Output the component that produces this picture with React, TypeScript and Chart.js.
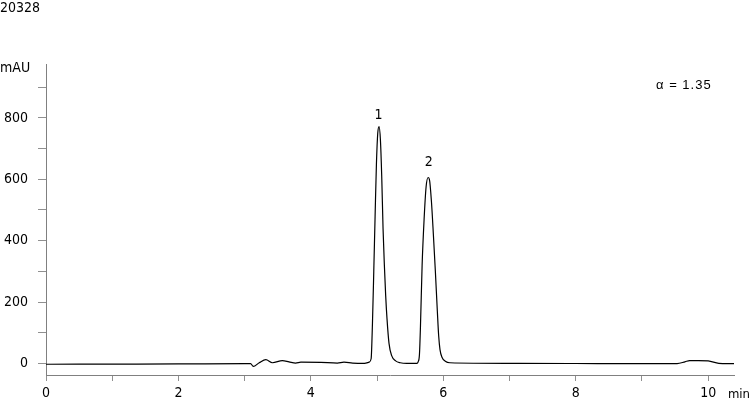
import { Chart, registerables } from "chart.js";
import { useEffect, useRef } from "react";

Chart.register(...registerables);

// retention time (min) and detector signal (mAU)
const times = [
  0, 1, 2, 3, 3.09, 3.13, 3.22, 3.32, 3.42, 3.57, 3.67, 3.77, 3.85, 4.15, 4.4,
  4.5, 4.63, 4.81, 4.88, 4.91, 4.93, 4.95, 4.97, 4.99, 5.01, 5.03, 5.05, 5.07,
  5.09, 5.11, 5.13, 5.15, 5.18, 5.22, 5.28, 5.35, 5.45, 5.6, 5.62, 5.64, 5.655,
  5.68, 5.71, 5.74, 5.77, 5.79, 5.82, 5.85, 5.88, 5.91, 5.93, 5.95, 5.98, 6.03,
  6.1, 7, 8, 9, 9.53, 9.65, 9.72, 9.85, 10.0, 10.16, 10.3, 10.39,
];
const signal = [
  -3, -2.5, -2, -1, -1, -10, 2, 12, 2, 9, 5, 1, 4, 3, 1, 4, 1, 0, 4, 15, 130,
  300, 480, 650, 750, 772, 730, 610, 440, 320, 220, 145, 65, 25, 8, 2, 0, 0, 5,
  30, 120, 320, 470, 575, 606, 600, 530, 420, 300, 170, 90, 45, 20, 7, 2, 0,
  -0.5, -1, -1, 5, 9, 9, 8, 0, -1, -1,
];

const peakNames = ["1", "2"];
const peakTimes = [5.02, 5.78];
const peakLabelY = [793, 640];

const xMin = 0;
const xMax = 10.39;
const yMin = -38;
const yMax = 976;

const tickFont = '"DejaVu Sans Condensed", "DejaVu Sans", sans-serif';

const textPlugin = {
  id: "chromText",
  afterDraw(chart: Chart) {
    const ctx = chart.ctx;
    const xs = chart.scales.x;
    const ys = chart.scales.y;
    ctx.save();
    ctx.fillStyle = "#000";
    ctx.font = `14px ${tickFont}`;
    ctx.textAlign = "left";
    ctx.textBaseline = "alphabetic";
    ctx.fillText("20328", 0, 12);
    ctx.fillText("mAU", 0, 72);
    ctx.textAlign = "center";
    ctx.textBaseline = "bottom";
    peakNames.forEach((name, i) => {
      ctx.fillText(
        name,
        xs.getPixelForValue(peakTimes[i]),
        ys.getPixelForValue(peakLabelY[i]) + 2,
      );
    });
    ctx.font = `13px ${tickFont}`;
    ctx.textAlign = "right";
    ctx.textBaseline = "alphabetic";
    ctx.fillText("min", 750, 398);
    ctx.font = '13px "Liberation Sans", Arial, sans-serif';
    (ctx as any).letterSpacing = "1px";
    ctx.textAlign = "left";
    ctx.fillText("\u03b1 = 1.35", 656, 89);
    ctx.restore();
  },
};

export default function App() {
  const canvasRef = useRef<HTMLCanvasElement | null>(null);

  useEffect(() => {
    if (!canvasRef.current) return;
    const ctx = canvasRef.current.getContext("2d");
    if (!ctx) return;

    const points = times.map((t, i) => ({ x: t, y: signal[i] }));

    const chart = new Chart(ctx, {
      type: "line",
      data: {
        datasets: [
          {
            data: points,
            borderColor: "#000",
            borderWidth: 1.2,
            pointRadius: 0,
            fill: false,
            cubicInterpolationMode: "monotone",
          },
        ],
      },
      options: {
        animation: false,
        responsive: false,
        devicePixelRatio: 1,
        layout: { padding: { left: 0, top: 64, right: 16, bottom: 0 } },
        plugins: {
          legend: { display: false },
          tooltip: { enabled: false },
        },
        scales: {
          x: {
            type: "linear",
            min: xMin,
            max: xMax,
            afterFit: (s: any) => {
              s.height = 25;
            },
            border: { display: true, color: "#808080", width: 1 },
            grid: {
              drawOnChartArea: false,
              drawTicks: true,
              tickLength: 6,
              color: "#909090",
            },
            ticks: {
              stepSize: 1,
              includeBounds: false,
              autoSkip: false,
              maxRotation: 0,
              padding: 4,
              color: "#000",
              font: { family: tickFont, size: 14 },
              callback: (v: any) => (Number(v) % 2 === 0 ? String(v) : ""),
            },
          },
          y: {
            type: "linear",
            min: yMin,
            max: yMax,
            afterFit: (s: any) => {
              s.width = 46;
            },
            border: { display: true, color: "#808080", width: 1 },
            grid: {
              drawOnChartArea: false,
              drawTicks: true,
              tickLength: 8,
              color: "#909090",
            },
            ticks: {
              stepSize: 100,
              includeBounds: false,
              autoSkip: false,
              padding: 10,
              color: "#000",
              font: { family: tickFont, size: 14 },
              callback: (v: any) => (Number(v) % 200 === 0 ? String(v) : ""),
            },
          },
        },
      },
      plugins: [textPlugin],
    });

    return () => {
      chart.destroy();
    };
  }, []);

  return (
    <div
      style={{
        position: "fixed",
        left: 0,
        top: 0,
        width: 750,
        height: 400,
        background: "#fff",
      }}
    >
      <canvas ref={canvasRef} width={750} height={400}></canvas>
    </div>
  );
}
